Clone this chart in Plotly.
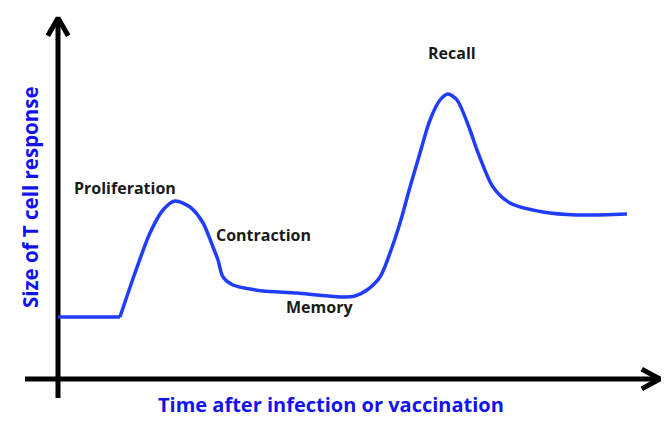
import plotly.graph_objects as go

# Data (arbitrary units): time after infection, size of T cell response
baseline_time = [0.0, 10.33]
baseline_size = [20.67, 20.67]

curve_time = [10.33, 12.83, 15.33, 17.5, 19.5, 22.0, 24.17, 25.83, 26.67, 27.5,
              29.17, 32.0, 34.17, 39.83, 43.17, 47.0, 49.5, 51.5, 53.67, 55.33, 57.0,
              58.67, 60.33, 62.0, 63.67, 65.0, 66.5, 68.67, 69.83, 72.5, 75.33, 80.83,
              86.5, 94.83]
curve_size = [20.67, 35.33, 48.67, 56.33, 59.33, 57.33, 52.0, 44.0, 39.67, 34.0,
              31.33, 30.0, 29.33, 28.67, 28.0, 27.33, 27.67, 29.67, 34.0, 42.0, 52.0,
              64.0, 75.33, 86.33, 93.0, 95.0, 93.0, 83.0, 76.33, 64.0, 58.67, 55.67,
              54.67, 55.0]

labels = ["Proliferation", "Contraction", "Memory", "Recall"]
label_time = [11.2, 34.2, 43.5, 65.7]
label_size = [63.7, 48.0, 24.0, 108.7]

x_title = "Time after infection or vaccination"
y_title = "Size of T cell response"

# axis extents (data units)
x_min, x_max = -5.5, 100.3
y_min, y_max = -6.3, 120.3

curve_color = "#1f3cff"
title_color = "#1212f0"

fig = go.Figure()

# axes drawn as thick lines with open chevron arrowheads
axis_line = dict(color="black", width=5)
fig.add_trace(go.Scatter(x=[x_min, x_max], y=[0, 0], mode="lines", line=axis_line,
                         hoverinfo="skip"))
fig.add_trace(go.Scatter(x=[x_max - 3.0, x_max, x_max - 3.0], y=[3.3, 0, -3.3],
                         mode="lines", line=dict(color="black", width=5, simplify=False),
                         hoverinfo="skip"))
fig.add_trace(go.Scatter(x=[0, 0], y=[y_min, y_max], mode="lines", line=axis_line,
                         hoverinfo="skip"))
fig.add_trace(go.Scatter(x=[-1.7, 0, 1.7], y=[y_max - 5.9, y_max, y_max - 5.9],
                         mode="lines", line=dict(color="black", width=5, simplify=False),
                         hoverinfo="skip"))

# T cell response curve
fig.add_trace(go.Scatter(x=baseline_time, y=baseline_size, mode="lines",
                         line=dict(color=curve_color, width=3.5)))
fig.add_trace(go.Scatter(x=curve_time, y=curve_size, mode="lines",
                         line=dict(color=curve_color, width=3.5, shape="spline", smoothing=0.8)))

for txt, t, s in zip(labels, label_time, label_size):
    fig.add_annotation(x=t, y=s, text=txt, showarrow=False, xanchor="center", yanchor="middle",
                       font=dict(family="Open Sans", size=16, color="#1a1a1a", weight=700))

fig.add_annotation(x=0.4926, y=0.0426, xref="paper", yref="paper", text=x_title, showarrow=False,
                   xanchor="center", yanchor="middle",
                   font=dict(family="Open Sans", size=20, color=title_color, weight="bold"))
fig.add_annotation(x=0.0446, y=0.534, xref="paper", yref="paper", text=y_title, showarrow=False,
                   textangle=-90, xanchor="center", yanchor="middle",
                   font=dict(family="Open Sans", size=20.5, color=title_color, weight="bold"))

fig.update_layout(
    width=672, height=423, margin=dict(l=0, r=0, t=0, b=0),
    paper_bgcolor="white", plot_bgcolor="white", showlegend=False,
    xaxis=dict(visible=False, range=[-9.667, 102.333], fixedrange=True),
    yaxis=dict(visible=False, range=[-14.667, 126.333], fixedrange=True),
)

fig.write_html("out.html", post_script="document.body.style.margin='0';",
               config={"displayModeBar": False})
